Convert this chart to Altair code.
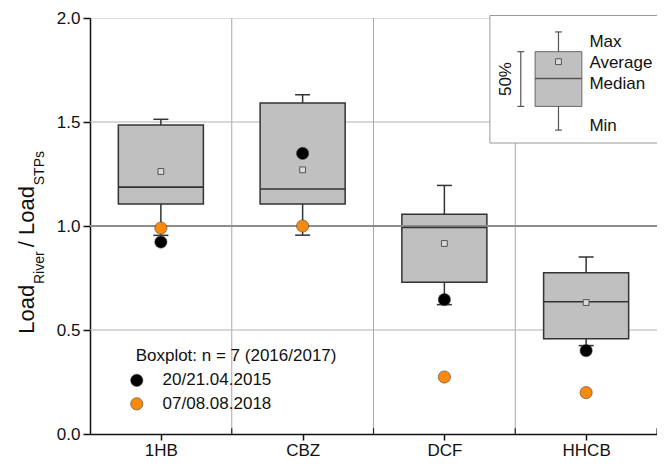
import altair as alt
import pandas as pd

# ---------------- data ----------------
categories = ["1HB", "CBZ", "DCF", "HHCB"]
positions = [1, 2, 3, 4]
box_max = [1.513, 1.631, 1.195, 0.851]
box_q3 = [1.486, 1.591, 1.056, 0.775]
box_median = [1.187, 1.178, 0.993, 0.636]
box_q1 = [1.106, 1.106, 0.729, 0.458]
box_min = [0.955, 0.956, 0.622, 0.425]
box_mean = [1.262, 1.270, 0.916, 0.632]

campaign_names = ["20/21.04.2015", "07/08.08.2018"]
campaign_colors = ["#000000", "#f98a0e"]
values_2015 = [0.923, 1.349, 0.646, 0.401]
values_2018 = [0.990, 1.000, 0.274, 0.199]

y_ticks = [0.0, 0.5, 1.0, 1.5, 2.0]
grid_y = [0.5, 1.5]
ref_y = [1.0]
boundaries = [1.5, 2.5, 3.5]
bottom_ticks = [1.5, 2.5, 3.5, 4.5]

# legend key (schematic box, in data units)
key_center = [3.805]
key_max = [1.933]
key_q3 = [1.838]
key_mean = [1.790]
key_median = [1.709]
key_q1 = [1.575]
key_min = [1.461]
key_labels = ["Max", "Average", "Median", "Min"]
key_label_y = [1.886, 1.782, 1.682, 1.480]

# ---------------- frames ----------------
box_df = pd.DataFrame({
    "pos": positions, "cat": categories, "max": box_max, "q3": box_q3,
    "median": box_median, "q1": box_q1, "min": box_min, "mean": box_mean,
})

pts_df = pd.DataFrame({
    "pos": positions * 2,
    "value": values_2015 + values_2018,
    "campaign": [campaign_names[0]] * 4 + [campaign_names[1]] * 4,
})

FONT = "Liberation Sans"
xscale = alt.Scale(domain=[0.5, 4.5], nice=False, zero=False)
yscale = alt.Scale(domain=[0, 2], nice=False, zero=False)
label_expr = "[" + ",".join(f"'{c}'" for c in categories) + "][datum.value - 1]"
x_axis = alt.Axis(values=positions, labelExpr=label_expr, grid=False, title=None,
                  tickSize=6, tickWidth=1.5, tickColor="#111", domainColor="#111",
                  domainWidth=1.5, labelFontSize=17, labelFont=FONT, labelColor="#111",
                  labelPadding=2)
y_axis = alt.Axis(values=y_ticks, format=".1f", grid=False, title=None,
                  tickSize=7, tickWidth=1.5, tickColor="#111", domainColor="#111",
                  domainWidth=1.5, labelFontSize=17, labelFont=FONT, labelColor="#111",
                  labelPadding=3)


def X(f):
    return alt.X(f"{f}:Q", scale=xscale, axis=x_axis)


def Y(f):
    return alt.Y(f"{f}:Q", scale=yscale, axis=y_axis)


color_scale = alt.Scale(domain=campaign_names, range=campaign_colors)

# gridlines
vgrid = alt.Chart(pd.DataFrame({"x": boundaries, "y0": [0] * 3, "y1": [2] * 3})).mark_rule(
    color="#a8a8a8", strokeWidth=1).encode(x=X("x"), y=Y("y0"), y2="y1")
hgrid = alt.Chart(pd.DataFrame({"y": grid_y, "x0": [0.5] * 2, "x1": [4.5] * 2})).mark_rule(
    color="#b4b4b4", strokeWidth=1.2).encode(x=X("x0"), x2="x1", y=Y("y"))
refline = alt.Chart(pd.DataFrame({"y": ref_y, "x0": [0.5], "x1": [4.5]})).mark_rule(
    color="#8c8c8c", strokeWidth=2.2).encode(x=X("x0"), x2="x1", y=Y("y"))
inticks = alt.Chart(pd.DataFrame({"x": bottom_ticks, "y0": [0] * 4, "y1": [0.028] * 4})).mark_rule(
    color="#222", strokeWidth=1.2).encode(x=X("x"), y=Y("y0"), y2="y1")

# legend box (white panel)
panel = alt.Chart(pd.DataFrame({"x0": [3.321], "x1": [4.56], "y0": [1.399], "y1": [2.012]})).mark_rect(
    fill="white", stroke="#9a9a9a", strokeWidth=1).encode(x=X("x0"), x2="x1", y=Y("y0"), y2="y1")

base = alt.Chart(box_df).transform_calculate(
    lo="datum.pos - 0.3", hi="datum.pos + 0.3",
    cl="datum.pos - 0.053", cr="datum.pos + 0.053")

boxes = base.mark_rect(fill="#c0c0c0", stroke="#333", strokeWidth=1.5).encode(
    x=X("lo"), x2="hi", y=Y("q1"), y2="q3")
medians = base.mark_rule(color="#333", strokeWidth=1.6).encode(x=X("lo"), x2="hi", y=Y("median"))
wh_up = base.mark_rule(color="#333", strokeWidth=1.5).encode(x=X("pos"), y=Y("q3"), y2="max")
wh_dn = base.mark_rule(color="#333", strokeWidth=1.5).encode(x=X("pos"), y=Y("min"), y2="q1")
cap_up = base.mark_rule(color="#333", strokeWidth=1.5).encode(x=X("cl"), x2="cr", y=Y("max"))
cap_dn = base.mark_rule(color="#333", strokeWidth=1.5).encode(x=X("cl"), x2="cr", y=Y("min"))
means = base.mark_point(shape="square", size=34, filled=True, fill="#dadada", stroke="#555",
                        strokeWidth=1, opacity=1).encode(x=X("pos"), y=Y("mean"))

points = alt.Chart(pts_df).mark_point(filled=True, size=150, stroke="#444", strokeWidth=0.6,
                                      opacity=1).encode(
    x=X("pos"), y=Y("value"),
    fill=alt.Fill("campaign:N", scale=color_scale, legend=None))

# bottom-left legend
leg_df = pd.DataFrame({"campaign": campaign_names, "x": [0.83, 0.83], "tx": [1.012, 1.012],
                       "y": [0.258, 0.145]})
leg_pts = alt.Chart(leg_df).mark_point(filled=True, size=150, stroke="#444", strokeWidth=0.6,
                                       opacity=1).encode(
    x=X("x"), y=Y("y"), fill=alt.Fill("campaign:N", scale=color_scale, legend=None))
leg_txt = alt.Chart(leg_df).mark_text(align="left", baseline="middle", fontSize=17, font=FONT,
                                      color="#111").encode(x=X("tx"), y=Y("y"), text="campaign:N")
leg_head = alt.Chart(pd.DataFrame({"t": ["Boxplot: n = 7 (2016/2017)"], "x": [0.822], "y": [0.377]})).mark_text(
    align="left", baseline="middle", fontSize=17, font=FONT, color="#111").encode(
    x=X("x"), y=Y("y"), text="t:N")

# legend key schematic
key_df = pd.DataFrame({"c": key_center, "max": key_max, "q3": key_q3, "mean": key_mean,
                       "median": key_median, "q1": key_q1, "min": key_min})
kb = alt.Chart(key_df).transform_calculate(
    lo="datum.c - 0.165", hi="datum.c + 0.165",
    cl="datum.c - 0.024", cr="datum.c + 0.024",
    bx="datum.c - 0.266", bl="datum.c - 0.29", br="datum.c - 0.242",
    tx="datum.c - 0.337", ty="(datum.q1 + datum.q3) / 2")
k_box = kb.mark_rect(fill="#c0c0c0", stroke="#666", strokeWidth=1).encode(
    x=X("lo"), x2="hi", y=Y("q1"), y2="q3")
k_med = kb.mark_rule(color="#555", strokeWidth=1.4).encode(x=X("lo"), x2="hi", y=Y("median"))
k_wu = kb.mark_rule(color="#555", strokeWidth=1.2).encode(x=X("c"), y=Y("q3"), y2="max")
k_wd = kb.mark_rule(color="#555", strokeWidth=1.2).encode(x=X("c"), y=Y("min"), y2="q1")
k_cu = kb.mark_rule(color="#555", strokeWidth=1.2).encode(x=X("cl"), x2="cr", y=Y("max"))
k_cd = kb.mark_rule(color="#555", strokeWidth=1.2).encode(x=X("cl"), x2="cr", y=Y("min"))
k_mean = kb.mark_point(shape="square", size=34, filled=True, fill="#dadada", stroke="#555",
                       strokeWidth=1, opacity=1).encode(x=X("c"), y=Y("mean"))
k_br = kb.mark_rule(color="#555", strokeWidth=1.2).encode(x=X("bx"), y=Y("q1"), y2="q3")
k_bt = kb.mark_rule(color="#555", strokeWidth=1.2).encode(x=X("bl"), x2="br", y=Y("q3"))
k_bb = kb.mark_rule(color="#555", strokeWidth=1.2).encode(x=X("bl"), x2="br", y=Y("q1"))
k_pct = kb.transform_calculate(t="'50%'").mark_text(
    angle=270, align="center", baseline="alphabetic", fontSize=17, font=FONT, color="#111").encode(
    x=X("tx"), y=Y("ty"), text="t:N")
k_lab = alt.Chart(pd.DataFrame({"t": key_labels, "y": key_label_y, "x": [4.023] * 4})).mark_text(
    align="left", baseline="middle", fontSize=17, font=FONT, color="#111").encode(
    x=X("x"), y=Y("y"), text="t:N")

# y-axis title with subscripts
title_df = pd.DataFrame({
    "t": ["Load", "River", "/ Load", "STPs"],
    "x": [0.107, 0.172, 0.107, 0.172],
    "y": [0.482, 0.721, 0.898, 1.196],
    "fs": [22, 14, 22, 14],
})
title = alt.Chart(title_df).mark_text(angle=270, align="left", baseline="alphabetic",
                                      font=FONT, color="#111").encode(
    x=X("x"), y=Y("y"), text="t:N", size=alt.Size("fs:Q", scale=None))

chart = alt.layer(
    vgrid, hgrid, panel, boxes, refline, medians, wh_up, wh_dn, cap_up, cap_dn, points, means,
    inticks, leg_pts, leg_txt, leg_head,
    k_box, k_med, k_wu, k_wd, k_cu, k_cd, k_mean, k_br, k_bt, k_bb, k_pct, k_lab, title,
).properties(
    width=567, height=416,
    autosize=alt.AutoSizeParams(type="none"),
    padding={"left": 82, "top": 10, "right": 0, "bottom": 25},
).configure_view(stroke=None).configure(background="white")

chart.save("out.html", embed_options={"renderer": "svg", "actions": False})
